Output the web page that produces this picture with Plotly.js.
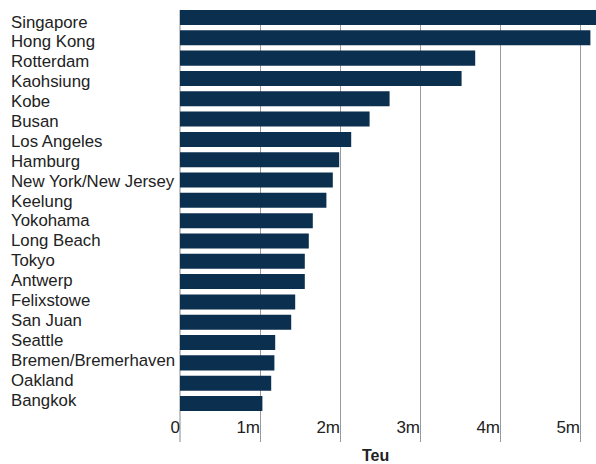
<!DOCTYPE html>
<html>
<head>
<meta charset="utf-8">
<script src="https://cdn.plot.ly/plotly-3.0.1.min.js"></script>
<style>html,body{margin:0;padding:0;background:#fff;}#chart{width:596px;height:464px;}</style>
</head>
<body>
<div id="chart"></div>
<script>
const ports = ["Singapore","Hong Kong","Rotterdam","Kaohsiung","Kobe","Busan","Los Angeles","Hamburg","New York/New Jersey","Keelung","Yokohama","Long Beach","Tokyo","Antwerp","Felixstowe","San Juan","Seattle","Bremen/Bremerhaven","Oakland","Bangkok"];
const teu = [5.22,5.13,3.69,3.52,2.62,2.37,2.14,1.99,1.91,1.83,1.66,1.61,1.56,1.56,1.44,1.39,1.19,1.18,1.14,1.03];
const tickVals = [0,1,2,3,4,5];
const tickText = ["0","1m","2m","3m","4m","5m"];

const font = "Liberation Sans, Arial, Helvetica, sans-serif";
const textColor = "#222";

const trace = {
  type: "bar",
  orientation: "h",
  x: teu.map(v => v * 1e6),
  y: ports,
  marker: {color: "#0b2f4f"},
  hoverinfo: "none"
};

// category labels on a separate (hidden) label axis, left aligned
const annotations = ports.map((p, i) => ({
  x: -0.411, xref: "paper", xanchor: "left",
  y: i, yref: "y2", yanchor: "middle", yshift: -1,
  text: p, showarrow: false,
  font: {family: font, size: 16.8, color: textColor}
}));
annotations.push({
  x: 0.471, xref: "paper", xanchor: "center",
  y: -0.032, yref: "paper", yanchor: "middle",
  borderpad: 0,
  text: "<b>Teu</b>", showarrow: false,
  font: {family: font, size: 16, color: textColor}
});

const layout = {
  width: 596, height: 464,
  margin: {l: 180, r: 0, t: 10, b: 22},
  paper_bgcolor: "#fff", plot_bgcolor: "#fff",
  showlegend: false,
  bargap: 0.26,
  xaxis: {
    range: [0, 5.2e6],
    tickvals: tickVals.map(v => v * 1e6),
    ticktext: tickText,
    ticklabelposition: "inside left",
    ticklabeloverflow: "allow",
    showgrid: true, gridcolor: "#9a9a9a", gridwidth: 1,
    zeroline: true, zerolinecolor: "#c4c4c4", zerolinewidth: 2,
    showline: false, ticks: "",
    tickfont: {family: font, size: 17, color: textColor},
    fixedrange: true
  },
  yaxis: {
    type: "category",
    categoryorder: "array", categoryarray: ports,
    range: [20.895, -0.369],
    showticklabels: false, showgrid: false, zeroline: false, ticks: "",
    fixedrange: true
  },
  yaxis2: {
    overlaying: "y",
    range: [21.161, -0.553],
    showticklabels: false, showgrid: false, zeroline: false, ticks: "",
    fixedrange: true
  },
  annotations: annotations
};

Plotly.newPlot("chart", [trace], layout, {displayModeBar: false, staticPlot: true});
</script>
</body>
</html>
